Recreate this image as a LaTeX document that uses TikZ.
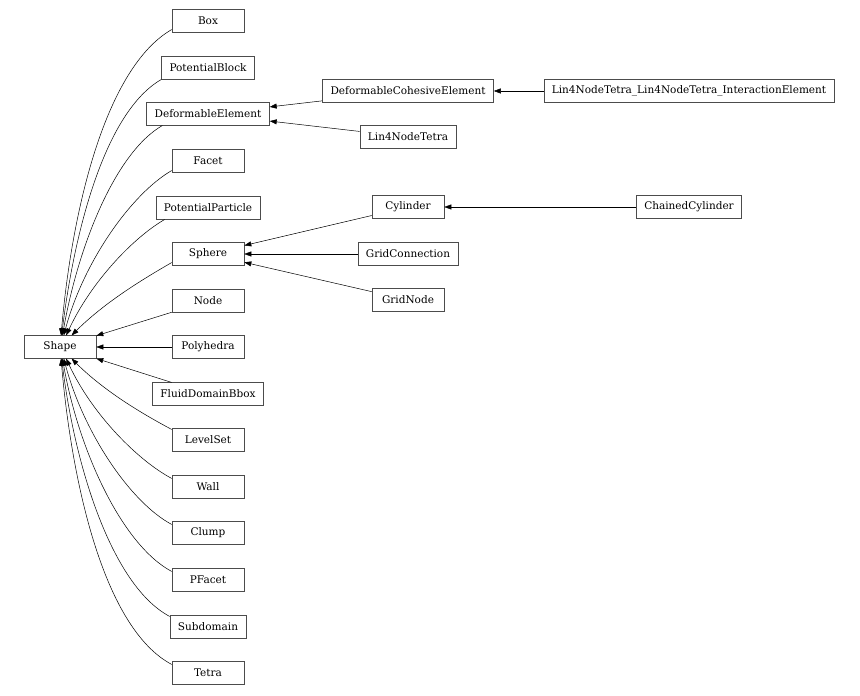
\documentclass[tikz,border=0pt]{standalone}
\usepackage{fontspec}
\setmainfont{DejaVu Serif}
\usepackage{tikz}
\usetikzlibrary{arrows.meta}
\tikzset{
  cls/.style={rectangle, draw=black!70, line width=0.6pt, align=center,
              minimum width=72pt, minimum height=22.5pt, inner xsep=8pt,
              font=\fontsize{10.5}{12}\selectfont},
  inh/.style={-{Triangle[length=7pt, width=5pt]}, line width=0.5pt, draw=black},
  up/.style={out=210, out looseness=0.6, in looseness=1},
  dn/.style={out=152, out looseness=0.6, in looseness=1},
}
\begin{document}
\begin{tikzpicture}[x=1pt, y=1pt]
  \useasboundingbox (0,0) rectangle (860,696);
  % root
  \node[cls] (shape)    at (60,349)  {Shape};
  % first level
  \node[cls] (box)      at (208,675) {Box};
  \node[cls] (potblock) at (208,628) {PotentialBlock};
  \node[cls] (defelem)  at (208,582) {DeformableElement};
  \node[cls] (facet)    at (208,535) {Facet};
  \node[cls] (potpart)  at (208,488) {PotentialParticle};
  \node[cls] (sphere)   at (208,442) {Sphere};
  \node[cls] (nodec)    at (208,395) {Node};
  \node[cls] (polyh)    at (208,349) {Polyhedra};
  \node[cls] (fluidbb)  at (208,302) {FluidDomainBbox};
  \node[cls] (levelset) at (208,256) {LevelSet};
  \node[cls] (wall)     at (208,209) {Wall};
  \node[cls] (clump)    at (208,163) {Clump};
  \node[cls] (pfacet)   at (208,116) {PFacet};
  \node[cls] (subdom)   at (208,69)  {Subdomain};
  \node[cls] (tetra)    at (208,23)  {Tetra};
  % second and third level
  \node[cls] (defcoh)   at (408,605) {DeformableCohesiveElement};
  \node[cls] (linint)   at (689,605) {Lin4NodeTetra\_Lin4NodeTetra\_InteractionElement};
  \node[cls] (lintet)   at (408,559) {Lin4NodeTetra};
  \node[cls] (cyl)      at (408,489) {Cylinder};
  \node[cls] (chaincyl) at (689,489) {ChainedCylinder};
  \node[cls] (gridconn) at (408,442) {GridConnection};
  \node[cls] (gridnode) at (408,396) {GridNode};

  % edges into Shape, from above
  \draw[inh] ([yshift=3pt]box.south west)    to[up, in=85] (shape.85);
  \draw[inh] (potblock.south west)            to[up, in=83] (shape.82);
  \draw[inh] ([xshift=16pt]defelem.south west) to[up, in=80] (shape.78);
  \draw[inh] ([yshift=2pt]facet.south west)   to[up, in=75] (shape.72);
  \draw[inh] ([xshift=9pt]potpart.south west) to[up, in=65] (shape.62);
  \draw[inh] ([yshift=3pt]sphere.south west)  to[up, in=45] (shape.45);
  \draw[inh] (nodec) -- (shape);
  \draw[inh] (polyh) -- (shape);
  \draw[inh] (fluidbb) -- (shape);
  % edges into Shape, from below
  \draw[inh] ([yshift=-1pt]levelset.north west) to[dn, in=-45] (shape.-45);
  \draw[inh] ([yshift=-3pt]wall.north west)     to[dn, in=-65] (shape.-62);
  \draw[inh] ([yshift=-3pt]clump.north west)    to[dn, in=-75] (shape.-72);
  \draw[inh] ([yshift=-3pt]pfacet.north west)   to[dn, in=-80] (shape.-78);
  \draw[inh] ([yshift=-1pt]subdom.north west)   to[dn, in=-83] (shape.-82);
  \draw[inh] ([yshift=-3pt]tetra.north west)    to[dn, in=-85] (shape.-85);

  % deeper classes
  \draw[inh] (defcoh) -- (defelem);
  \draw[inh] (lintet) -- (defelem);
  \draw[inh] (linint) -- (defcoh);
  \draw[inh] (cyl) -- (sphere);
  \draw[inh] (gridconn) -- (sphere);
  \draw[inh] (gridnode) -- (sphere);
  \draw[inh] (chaincyl) -- (cyl);
\end{tikzpicture}
\end{document}
